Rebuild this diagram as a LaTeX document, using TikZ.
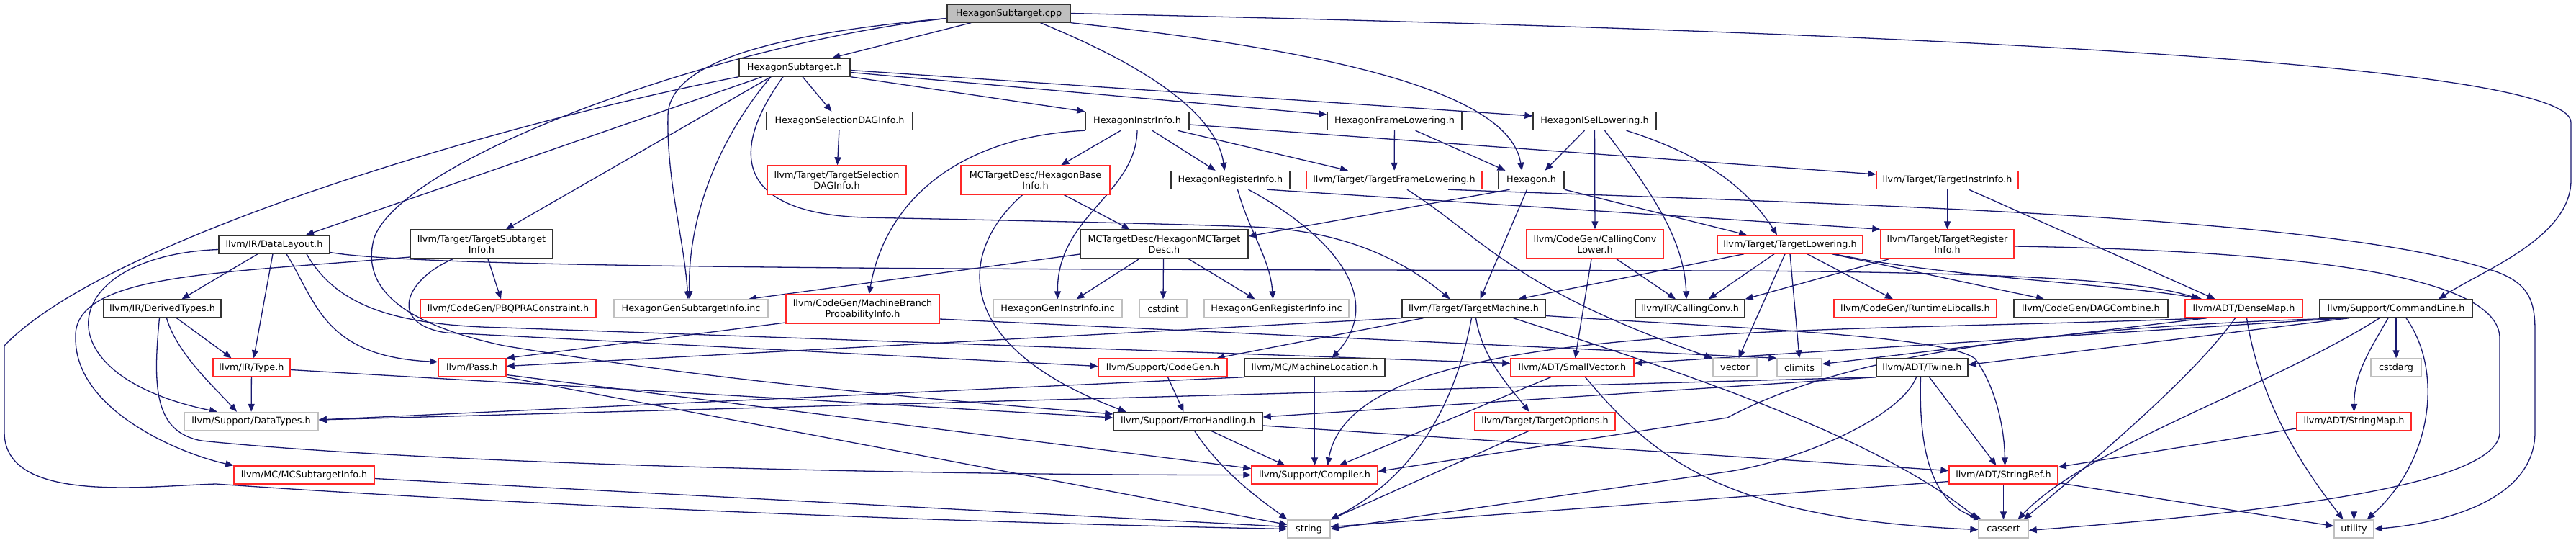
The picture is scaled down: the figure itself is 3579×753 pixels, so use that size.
\documentclass[tikz,border=0pt]{standalone}
\usepackage{fontspec}
\setmainfont{DejaVu Sans}
\usetikzlibrary{arrows.meta}
\definecolor{edgec}{RGB}{25,25,112}
\definecolor{nred}{RGB}{255,40,40}
\definecolor{ngray}{RGB}{191,191,191}
\definecolor{nblack}{RGB}{50,50,50}
\pgfdeclarelayer{back}
\pgfdeclarelayer{bg}
\pgfsetlayers{back,bg,main}
\begin{document}
\begin{tikzpicture}[x=1pt,y=-1pt,
  nbox/.style={draw=nblack, fill=white, line width=1.4pt, inner sep=0pt, align=center, text=black, font=\fontsize{12.8}{15}\selectfont},
  rbox/.style={nbox, draw=nred},
  gbox/.style={nbox, draw=ngray},
  rootbox/.style={nbox, fill=ngray},
  hone/.style={minimum height=25pt},
  htwo/.style={minimum height=40pt},
  dep/.style={draw=edgec, line width=1.3pt, -{Triangle[length=11pt,width=9pt]}}
]
\begin{pgfonlayer}{back}
\fill[white] (0,0) rectangle (3579,753);
\end{pgfonlayer}
\useasboundingbox (0,0) rectangle (3579,753);

% row 0-2
\node[rootbox, hone, minimum width=171pt] (cpp) at (1401.5,18.5) {HexagonSubtarget.cpp};
\node[nbox, hone, minimum width=154pt] (hsh) at (1104,93.5) {HexagonSubtarget.h};
\node[nbox, hone, minimum width=203pt] (seldag) at (1166.5,168) {HexagonSelectionDAGInfo.h};
\node[nbox, hone, minimum width=144pt] (instr) at (1580,168) {HexagonInstrInfo.h};
\node[nbox, hone, minimum width=187pt] (frame) at (1937.5,168) {HexagonFrameLowering.h};
\node[nbox, hone, minimum width=171pt] (isel) at (2215.5,168) {HexagonISelLowering.h};
% row 3
\node[rbox, htwo, minimum width=193pt] (tseldag) at (1162.5,250) {llvm/Target/TargetSelection\\DAGInfo.h};
\node[rbox, htwo, minimum width=207pt] (base) at (1438.5,250) {MCTargetDesc/HexagonBase\\Info.h};
\node[nbox, hone, minimum width=165pt] (reg) at (1709.5,250) {HexagonRegisterInfo.h};
\node[rbox, hone, minimum width=244pt] (tframe) at (1937,250) {llvm/Target/TargetFrameLowering.h};
\node[nbox, hone, minimum width=91pt] (hex) at (2127.5,250) {Hexagon.h};
\node[rbox, hone, minimum width=197pt] (tinstr) at (2705.5,250) {llvm/Target/TargetInstrInfo.h};
% row 4
\node[nbox, hone, minimum width=154pt] (dl) at (381,339.5) {llvm/IR/DataLayout.h};
\node[nbox, htwo, minimum width=198pt] (tsub) at (669,339) {llvm/Target/TargetSubtarget\\Info.h};
\node[nbox, htwo, minimum width=233pt] (mcdesc) at (1617.5,339) {MCTargetDesc/HexagonMCTarget\\Desc.h};
\node[rbox, htwo, minimum width=190pt] (ccl) at (2216,339) {llvm/CodeGen/CallingConv\\Lower.h};
\node[rbox, hone, minimum width=202pt] (tlow) at (2487,339.5) {llvm/Target/TargetLowering.h};
\node[rbox, htwo, minimum width=185pt] (treg) at (2705.5,339) {llvm/Target/TargetRegister\\Info.h};
% row 5
\node[nbox, hone, minimum width=163pt] (dt) at (225.5,428.5) {llvm/IR/DerivedTypes.h};
\node[rbox, hone, minimum width=244pt] (pbqp) at (706,428.5) {llvm/CodeGen/PBQPRAConstraint.h};
\node[gbox, hone, minimum width=214pt] (gensub) at (960,428.5) {HexagonGenSubtargetInfo.inc};
\node[rbox, htwo, minimum width=213pt] (mbpi) at (1198.5,429) {llvm/CodeGen/MachineBranch\\ProbabilityInfo.h};
\node[gbox, hone, minimum width=179pt] (geninstr) at (1469.5,428.5) {HexagonGenInstrInfo.inc};
\node[gbox, hone, minimum width=66pt] (cstdint) at (1616,428.5) {cstdint};
\node[gbox, hone, minimum width=201pt] (genreg) at (1773.5,428.5) {HexagonGenRegisterInfo.inc};
\node[nbox, hone, minimum width=199pt] (tm) at (2047.5,428.5) {llvm/Target/TargetMachine.h};
\node[nbox, hone, minimum width=152pt] (cc) at (2348,428.5) {llvm/IR/CallingConv.h};
\node[rbox, hone, minimum width=226pt] (rtlib) at (2661,428.5) {llvm/CodeGen/RuntimeLibcalls.h};
\node[nbox, hone, minimum width=214pt] (dag) at (2905,428.5) {llvm/CodeGen/DAGCombine.h};
\node[rbox, hone, minimum width=163pt] (dm) at (3117.5,428.5) {llvm/ADT/DenseMap.h};
\node[nbox, hone, minimum width=212pt] (cl) at (3329,428.5) {llvm/Support/CommandLine.h};
% row 6
\node[rbox, hone, minimum width=107pt] (type) at (349.5,510.5) {llvm/IR/Type.h};
\node[rbox, hone, minimum width=94pt] (pass) at (656,510.5) {llvm/Pass.h};
\node[rbox, hone, minimum width=179pt] (cg) at (1615.5,510.5) {llvm/Support/CodeGen.h};
\node[nbox, hone, minimum width=195pt] (mloc) at (1826.5,510.5) {llvm/MC/MachineLocation.h};
\node[rbox, hone, minimum width=171pt] (sv) at (2184.5,510.5) {llvm/ADT/SmallVector.h};
\node[gbox, hone, minimum width=61pt] (vector) at (2410.5,510.5) {vector};
\node[gbox, hone, minimum width=62pt] (climits) at (2500,510.5) {climits};
\node[nbox, hone, minimum width=127pt] (twine) at (2670.5,510.5) {llvm/ADT/Twine.h};
\node[gbox, hone, minimum width=70pt] (cstdarg) at (3329,510.5) {cstdarg};
% row 7
\node[gbox, hone, minimum width=186pt] (datatypes) at (349,585) {llvm/Support/DataTypes.h};
\node[nbox, hone, minimum width=207pt] (eh) at (1650.5,585) {llvm/Support/ErrorHandling.h};
\node[rbox, hone, minimum width=195pt] (topt) at (2146.5,585) {llvm/Target/TargetOptions.h};
\node[rbox, hone, minimum width=159pt] (smap) at (3270.5,585) {llvm/ADT/StringMap.h};
% row 8
\node[rbox, hone, minimum width=195pt] (mcsub) at (422.5,659.5) {llvm/MC/MCSubtargetInfo.h};
\node[rbox, hone, minimum width=175pt] (comp) at (1826.5,659.5) {llvm/Support/Compiler.h};
\node[rbox, hone, minimum width=151pt] (sref) at (2783.5,659.5) {llvm/ADT/StringRef.h};
% row 9
\node[gbox, hone, minimum width=59pt] (string) at (1818.5,734.5) {string};
\node[gbox, hone, minimum width=69pt] (cassert) at (2783.5,734.5) {cassert};
\node[gbox, hone, minimum width=55pt] (utility) at (3270.5,734.5) {utility};

\begin{pgfonlayer}{bg}
% cpp
\draw[dep] (cpp) -- (hsh);
\draw[dep] (cpp.south east) .. controls (1950,80) and (2100,150) .. ([xshift=-13pt]hex.north);
\draw[dep] ([xshift=44pt]cpp.south) .. controls (1600,95) and (1690,160) .. ([xshift=-8pt]reg.north);
\draw[dep] (cpp.east) .. controls (2700,45) and (3572,90) .. (3572,170) -- (3572,250) .. controls (3572,330) and (3450,375) .. ([xshift=59pt]cl.north);
\draw[dep] ([yshift=-7pt]cpp.west) .. controls (1100,45) and (930,80) .. (928,160) .. controls (926,250) and (950,330) .. ([xshift=-4pt]gensub.north);
\draw[dep] ([yshift=-7pt]cpp.west) .. controls (1000,60) and (560,220) .. (520,330) .. controls (500,400) and (560,450) .. (700,480) .. controls (1000,530) and (1300,555) .. ([yshift=10pt]eh.west);
% hsh
\draw[dep] (hsh) -- (seldag);
\draw[dep] (hsh.south east) -- (instr.north west);
\draw[dep] ([yshift=-7pt]hsh.east) -- ([yshift=9pt]frame.west);
\draw[dep] ([yshift=-4pt]hsh.east) -- ([yshift=7pt]isel.west);
\draw[dep] ([xshift=-45pt]hsh.south) -- ([xshift=44pt]dl.north);
\draw[dep] ([xshift=-33pt]hsh.south) -- ([xshift=34pt]tsub.north);
\draw[dep] ([xshift=-33pt]hsh.south) .. controls (1000,190) and (955,300) .. ([xshift=-2pt]gensub.north);
\draw[dep] ([xshift=-16pt]hsh.south) .. controls (1020,200) and (1010,295) .. (1200,302) .. controls (1400,306) and (1600,310) .. (1740,315) .. controls (1880,320) and (1960,370) .. ([xshift=-33pt]tm.north);
\draw[dep] (hsh.south west) .. controls (700,170) and (150,330) .. (6,480) -- (6,600) .. controls (6,700) and (200,675) .. (300,672) .. controls (700,700) and (1300,725) .. (string.west);
% seldag
\draw[dep] (seldag) -- (tseldag);
% instr
\draw[dep] (instr) -- (base);
\draw[dep] (instr) -- (reg);
\draw[dep] (instr.south) .. controls (1578,270) and (1468,300) .. (geninstr.north);
\draw[dep] (instr.south west) .. controls (1330,190) and (1230,280) .. ([xshift=9pt]mbpi.north);
\draw[dep] ([xshift=56pt]instr.south) -- ([xshift=-64pt]tframe.north);
\draw[dep] ([yshift=-5pt]instr.east) -- ([yshift=8pt]tinstr.west);
% frame
\draw[dep] (frame) -- (tframe);
\draw[dep] ([xshift=29pt]frame.south) -- ([xshift=-36pt]hex.north);
% isel
\draw[dep] ([xshift=-14pt]isel.south) -- ([xshift=19pt]hex.north);
\draw[dep] (isel) -- (ccl);
\draw[dep] ([xshift=14pt]isel.south) .. controls (2290,260) and (2340,330) .. ([xshift=-5pt]cc.north);
\draw[dep] ([xshift=44pt]isel.south) .. controls (2350,210) and (2420,250) .. ([xshift=-18pt]tlow.north);
% hex
\draw[dep] ([xshift=-30pt]hex.south) -- ([yshift=11pt]mcdesc.east);
\draw[dep] ([xshift=-6pt]hex.south) -- ([xshift=9pt]tm.north);
\draw[dep] (hex.south east) -- ([xshift=-60pt]tlow.north);
% base
\draw[dep] ([xshift=40pt]base.south) -- ([xshift=-48pt]mcdesc.north);
\draw[dep] ([xshift=-18pt]base.south) .. controls (1330,350) and (1320,480) .. ([xshift=-86pt]eh.north);
% reg
\draw[dep] ([xshift=10pt]reg.south) .. controls (1735,320) and (1765,360) .. ([xshift=-5pt]genreg.north);
\draw[dep] ([xshift=25pt]reg.south) .. controls (1840,320) and (1930,410) .. ([xshift=24pt]mloc.north);
\draw[dep] ([xshift=51pt]reg.south) -- (treg.north west);
% tframe
\draw[dep] ([xshift=18pt]tframe.south) .. controls (2060,330) and (2100,400) .. (vector.north west);
\draw[dep] ([xshift=75pt]tframe.south) .. controls (2600,285) and (3250,300) .. (3470,378) .. controls (3515,395) and (3522,420) .. (3522,460) -- (3522,600) .. controls (3522,700) and (3380,728) .. (utility.east);
% tinstr
\draw[dep] (tinstr) -- (treg);
\draw[dep] ([xshift=30pt]tinstr.south) -- ([xshift=-40pt]dm.north);
% dl
\draw[dep] ([xshift=-23pt]dl.south) -- ([xshift=27pt]dt.north);
\draw[dep] ([xshift=-2pt]dl.south) -- ([xshift=3pt]type.north);
\draw[dep] ([yshift=-7pt]dl.west) .. controls (80,355) and (50,520) .. ([xshift=-47pt]datatypes.north);
\draw[dep] ([xshift=17pt]dl.south) .. controls (440,420) and (450,495) .. ([yshift=8pt]pass.west);
\draw[dep] ([xshift=45pt]dl.south) .. controls (470,430) and (560,452) .. (700,455) -- ([yshift=6pt]sv.west);
\draw[dep] ([yshift=-11pt]dl.east) .. controls (600,375) and (1500,374) .. (2400,376) .. controls (2800,378) and (2980,390) .. ([xshift=-62pt]dm.north);
% tsub
\draw[dep] ([xshift=9pt]tsub.south) -- ([xshift=-10pt]pbqp.north);
\draw[dep] ([yshift=-18pt]tsub.west) .. controls (300,380) and (100,380) .. (105,470) .. controls (105,570) and (250,630) .. (mcsub.north west);
\draw[dep] ([xshift=-40pt]tsub.south) .. controls (560,390) and (540,450) .. (620,462) -- ([yshift=2pt]cg.west);
% mcdesc
\draw[dep] ([yshift=-14pt]mcdesc.west) -- ([xshift=80pt]gensub.north);
\draw[dep] ([xshift=-35pt]mcdesc.south) -- ([xshift=26pt]geninstr.north);
\draw[dep] ([xshift=-1pt]mcdesc.south) -- (cstdint.north);
\draw[dep] ([xshift=34pt]mcdesc.south) -- ([xshift=-30pt]genreg.north);
% ccl
\draw[dep] ([xshift=30pt]ccl.south) -- ([xshift=-20pt]cc.north);
\draw[dep] ([xshift=-5pt]ccl.south) -- ([xshift=4pt]sv.north);
% tlow
\draw[dep] ([xshift=-64pt]tlow.south) -- ([xshift=62pt]tm.north);
\draw[dep] ([xshift=-22pt]tlow.south) -- ([xshift=26pt]cc.north);
\draw[dep] ([xshift=-7pt]tlow.south) -- ([xshift=5pt]vector.north);
\draw[dep] (tlow.south) -- (climits.north);
\draw[dep] ([xshift=24pt]tlow.south) -- ([xshift=-31pt]rtlib.north);
\draw[dep] ([xshift=58pt]tlow.south) -- ([xshift=-65pt]dag.north);
\draw[dep] ([xshift=62pt]tlow.south) .. controls (2700,385) and (2950,395) .. ([xshift=-58pt]dm.north);
% treg
\draw[dep] ([xshift=-81pt]treg.south) -- (cc.north east);
\draw[dep] ([yshift=-3pt]treg.east) .. controls (3300,350) and (3473,400) .. (3473,470) -- (3473,600) .. controls (3473,680) and (3100,715) .. ([yshift=-2pt]cassert.east);
% dt
\draw[dep] ([xshift=20pt]dt.south) -- ([xshift=-28pt]type.north);
\draw[dep] ([xshift=6pt]dt.south) .. controls (245,490) and (300,540) .. ([xshift=-20pt]datatypes.north);
\draw[dep] ([xshift=-4pt]dt.south) .. controls (212,540) and (215,600) .. (280,612) .. controls (600,645) and (1300,660) .. (comp.west);
% type
\draw[dep] (type) -- (datatypes);
\draw[dep] ([yshift=-3pt]type.east) -- ([yshift=5pt]eh.west);
% pass
\draw[dep] ([yshift=-10pt]pass.east) -- ([yshift=9pt]comp.west);
\draw[dep] (pass.south east) -- ([yshift=6pt]string.west);
% mbpi
\draw[dep] ([yshift=-19pt]mbpi.west) -- (pass.north east);
\draw[dep] ([yshift=-14pt]mbpi.east) -- (climits.north west);
% tm
\draw[dep] (tm.south west) -- ([yshift=2pt]pass.east);
\draw[dep] ([xshift=-70pt]tm.south) -- ([xshift=75pt]cg.north);
\draw[dep] ([xshift=-3pt]tm.south) .. controls (2030,520) and (1990,650) .. (string.north east);
\draw[dep] ([xshift=3pt]tm.south) .. controls (2060,500) and (2100,540) .. ([xshift=-22pt]topt.north);
\draw[dep] ([yshift=-10pt]tm.east) .. controls (2400,455) and (2700,465) .. (2744,498) .. controls (2775,540) and (2785,600) .. ([xshift=2pt]sref.north);
\draw[dep] ([xshift=55pt]tm.south) .. controls (2300,505) and (2600,600) .. (cassert.north west);
% eh
\draw[dep] ([xshift=32pt]eh.south) -- ([xshift=-41pt]comp.north);
\draw[dep] ([xshift=9pt]eh.south) .. controls (1700,660) and (1760,700) .. (string.north west);
\draw[dep] ([yshift=-6pt]eh.east) -- ([yshift=6pt]sref.west);
% cg
\draw[dep] ([xshift=7pt]cg.south) -- ([xshift=-6pt]eh.north);
% mloc
\draw[dep] (mloc) -- (comp);
\draw[dep] (mloc.south west) -- ([yshift=2pt]datatypes.east);
% sv
\draw[dep] ([xshift=-30pt]sv.south) -- ([xshift=34pt]comp.north);
\draw[dep] ([xshift=18pt]sv.south) .. controls (2300,640) and (2400,720) .. ([yshift=-1pt]cassert.west);
% twine
\draw[dep] ([xshift=10pt]twine.south) -- ([xshift=-10pt]sref.north);
\draw[dep] ([xshift=-2pt]twine.south) .. controls (2665,640) and (2690,700) .. ([xshift=-30pt]cassert.north);
\draw[dep] ([xshift=-8pt]twine.south) .. controls (2640,580) and (2500,640) .. (2400,655) -- (string.east);
\draw[dep] (twine.south west) -- ([yshift=6pt]eh.east);
\draw[dep] (twine.south west) -- ([yshift=2pt]datatypes.east);
% cl
\draw[dep] (cl) -- (cstdarg);
\draw[dep] ([xshift=-11pt]cl.south) .. controls (3290,490) and (3271,520) .. (smap.north);
\draw[dep] ([xshift=14pt]cl.south) .. controls (3395,515) and (3380,640) .. ([xshift=18pt]utility.north);
\draw[dep] ([xshift=-23pt]cl.south) .. controls (3150,540) and (2900,620) .. ([xshift=20pt]cassert.north);
\draw[dep] ([xshift=-65pt]cl.south) -- ([yshift=4pt]twine.east);
\draw[dep] ([xshift=-71pt]cl.south) -- ([yshift=6pt]sv.east);
\draw[dep] ([xshift=-71pt]cl.south) .. controls (2800,455) and (2550,500) .. (2400,580) -- ([yshift=5pt]comp.east);
% dm
\draw[dep] ([xshift=-52pt]dm.south) .. controls (2500,465) and (1880,440) .. ([xshift=18pt]comp.north);
\draw[dep] ([xshift=-52pt]dm.south) -- ([yshift=5pt]climits.east);
\draw[dep] ([xshift=-12pt]dm.south) .. controls (3050,520) and (2920,630) .. ([xshift=28pt]cassert.north);
\draw[dep] ([xshift=4pt]dm.south) .. controls (3140,560) and (3200,650) .. ([xshift=-15pt]utility.north);
% smap
\draw[dep] (smap) -- (utility);
\draw[dep] ([yshift=-10pt]smap.west) -- ([yshift=11pt]sref.east);
% sref
\draw[dep] (sref) -- (cassert);
\draw[dep] ([yshift=-9pt]sref.west) -- ([yshift=3pt]string.east);
\draw[dep] ([yshift=-11pt]sref.east) -- ([yshift=4pt]utility.west);
% topt
\draw[dep] ([xshift=-22pt]topt.south) -- (string.north east);
% mcsub
\draw[dep] ([yshift=-5pt]mcsub.east) -- ([yshift=3pt]string.west);
\end{pgfonlayer}
\end{tikzpicture}
\end{document}
